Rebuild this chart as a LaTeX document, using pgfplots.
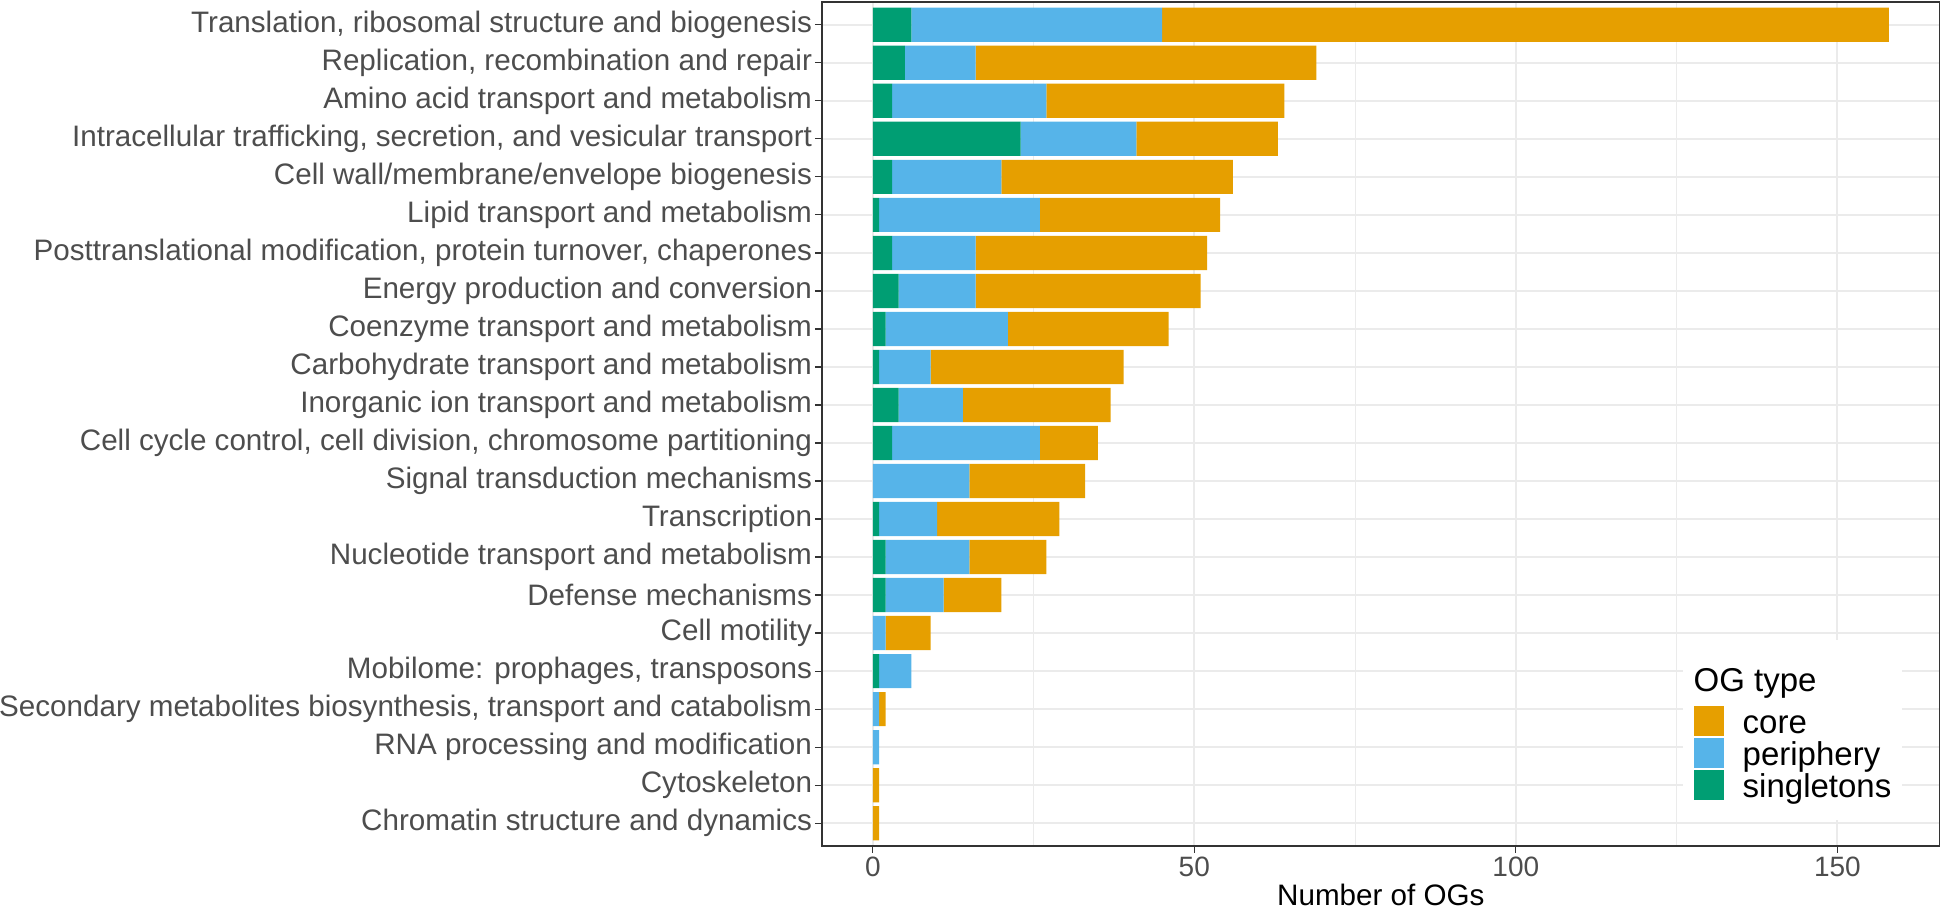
\documentclass[border=0pt]{standalone}
\usepackage{fontspec}
\setmainfont{Liberation Sans}
\usepackage{pgfplots}
\pgfplotsset{compat=1.18}
\definecolor{cCore}{HTML}{E69F00}
\definecolor{cPer}{HTML}{56B4E9}
\definecolor{cSing}{HTML}{009E73}
\definecolor{gridc}{HTML}{EBEBEB}
\definecolor{tickc}{HTML}{4D4D4D}
\definecolor{axc}{HTML}{333333}
\begin{document}
\begin{tikzpicture}
\begin{axis}[
  name=ax,
  at={(0pt,0pt)}, anchor=south west,
  scale only axis, width=558.8pt, height=422pt,
  xmin=-7.9, xmax=165.9, ymin=0.4, ymax=22.6,
  xbar stacked, bar width=0.9, bar shift=0pt,
  xtick={0,50,100,150}, minor xtick={25,75,125},
  ytick={1,...,22},
  yticklabels={
    Chromatin structure and dynamics,
    Cytoskeleton,
    RNA processing and modification,
    {Secondary metabolites biosynthesis, transport and catabolism},
    {Mobilome: prophages, transposons},
    Cell motility,
    Defense mechanisms,
    Nucleotide transport and metabolism,
    Transcription,
    Signal transduction mechanisms,
    {Cell cycle control, cell division, chromosome partitioning},
    Inorganic ion transport and metabolism,
    Carbohydrate transport and metabolism,
    Coenzyme transport and metabolism,
    Energy production and conversion,
    {Posttranslational modification, protein turnover, chaperones},
    Lipid transport and metabolism,
    Cell wall/membrane/envelope biogenesis,
    {Intracellular trafficking, secretion, and vesicular transport},
    Amino acid transport and metabolism,
    {Replication, recombination and repair},
    {Translation, ribosomal structure and biogenesis}},
  xmajorgrids, xminorgrids, ymajorgrids,
  major grid style={draw=gridc, line width=0.9pt},
  minor grid style={draw=gridc, line width=0.45pt},
  axis line style={draw=axc, line width=0.6pt},
  tick align=outside, tick pos=left,
  major tick length=3.5pt, minor tick length=0pt,
  major tick style={draw=axc, line width=0.6pt},
  /pgf/number format/assume math mode=true,
  xticklabel style={font=\fontsize{14}{16}\selectfont, text=tickc, anchor=base, inner sep=0pt, yshift=-12pt},
  yticklabel style={font=\fontsize{14.8}{16}\selectfont, text=tickc, anchor=east, inner sep=0pt, xshift=-1.3pt},
  xlabel={Number of OGs},
  xlabel style={at={(axis description cs:0.5,0)}, anchor=base, yshift=-29.6pt, inner sep=0pt, font=\fontsize{14.8}{16}\selectfont, text=black},
  reverse legend,
  legend cell align=left,
  legend style={at={(0.967,0.030)}, anchor=south east, draw=none, fill=white,
    font=\fontsize{16.5}{18}\selectfont, inner xsep=5.5pt, inner ysep=10pt,
    column sep=9.5pt, row sep=1pt,
    nodes={inner sep=0pt, text height=13pt, text depth=1pt}},
]
\addplot[fill=cSing, draw=none, legend image code/.code={\fill[cSing] (0pt,-7.5pt) rectangle (15pt,7.5pt);}] coordinates {
  (6,22) (5,21) (3,20) (23,19) (3,18) (1,17) (3,16) (4,15) (2,14) (1,13) (4,12)
  (3,11) (0,10) (1,9) (2,8) (2,7) (0,6) (1,5) (0,4) (0,3) (0,2) (0,1)};
\addlegendentry{singletons}
\addplot[fill=cPer, draw=none, legend image code/.code={\fill[cPer] (0pt,-7.5pt) rectangle (15pt,7.5pt);}] coordinates {
  (39,22) (11,21) (24,20) (18,19) (17,18) (25,17) (13,16) (12,15) (19,14) (8,13) (10,12)
  (23,11) (15,10) (9,9) (13,8) (9,7) (2,6) (5,5) (1,4) (1,3) (0,2) (0,1)};
\addlegendentry{periphery}
\addplot[fill=cCore, draw=none, legend image code/.code={\fill[cCore] (0pt,-7.5pt) rectangle (15pt,7.5pt);}] coordinates {
  (113,22) (53,21) (37,20) (22,19) (36,18) (28,17) (36,16) (35,15) (25,14) (30,13) (23,12)
  (9,11) (18,10) (19,9) (12,8) (9,7) (7,6) (0,5) (1,4) (0,3) (1,2) (1,1)};
\addlegendentry{core}
\addlegendimage{empty legend}
\addlegendentry[text height=15.7pt, text depth=6.5pt]{\hspace*{-24.5pt}OG type}
\end{axis}
\pgfresetboundingbox
\path[use as bounding box] (-411pt,-31pt) rectangle (562pt,423pt);
\end{tikzpicture}
\end{document}
